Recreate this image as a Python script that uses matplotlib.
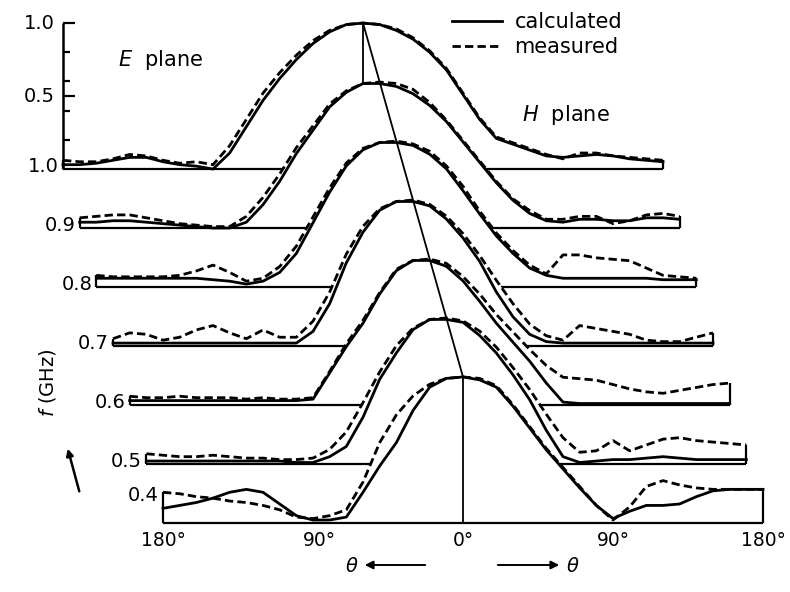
import numpy as np
import matplotlib
matplotlib.use("Agg")
import matplotlib.pyplot as plt
from matplotlib.lines import Line2D

plt.rcParams['font.family'] = ['DejaVu Sans']
plt.rcParams['mathtext.fontset'] = 'dejavusans'

# 方向角 (度), 每 10 度一个点
theta = list(range(-180, 181, 10))
freqs = ['0.4', '0.5', '0.6', '0.7', '0.8', '0.9', '1.0']
theta_ticks = [-180, -90, 0, 90, 180]
theta_ticklabels = ['180°', '90°', '0°', '90°', '180°']
amp_ticks = [0.2, 0.4, 0.5, 0.6, 0.8, 1.0]
amp_labels = ['0.5', '1.0']

# calculated / measured, 归一化方向图 (E 面在左, H 面在右)
calc_10 = [0.03, 0.03, 0.04, 0.06, 0.08, 0.08, 0.05, 0.03, 0.02,
           0.00, 0.11, 0.29, 0.47, 0.62, 0.75, 0.86, 0.94, 0.99,
           1.00,
           0.99, 0.95, 0.89, 0.80, 0.68, 0.51, 0.34, 0.21, 0.17,
           0.13, 0.09, 0.08, 0.09, 0.10, 0.09, 0.07, 0.06, 0.05]
meas_10 = [0.06, 0.05, 0.05, 0.07, 0.10, 0.09, 0.06, 0.04, 0.05,
           0.03, 0.16, 0.34, 0.52, 0.66, 0.78, 0.88, 0.95, 0.99,
           1.00,
           0.99, 0.96, 0.90, 0.81, 0.69, 0.52, 0.35, 0.22, 0.18,
           0.14, 0.10, 0.07, 0.11, 0.11, 0.09, 0.08, 0.07, 0.06]
calc_09 = [0.04, 0.04, 0.05, 0.05, 0.04, 0.03, 0.02, 0.01, 0.00,
           0.00, 0.04, 0.16, 0.32, 0.51, 0.67, 0.83, 0.93, 0.99,
           0.99,
           0.97, 0.92, 0.84, 0.73, 0.59, 0.45, 0.31, 0.19, 0.10,
           0.05, 0.04, 0.06, 0.06, 0.05, 0.05, 0.07, 0.07, 0.06]
meas_09 = [0.07, 0.08, 0.09, 0.09, 0.07, 0.05, 0.03, 0.02, 0.01,
           0.01, 0.08, 0.21, 0.37, 0.55, 0.70, 0.85, 0.94, 0.99,
           1.00,
           0.99, 0.95, 0.86, 0.74, 0.60, 0.46, 0.32, 0.20, 0.12,
           0.06, 0.06, 0.08, 0.08, 0.03, 0.05, 0.09, 0.10, 0.08]
calc_08 = [0.06, 0.06, 0.06, 0.06, 0.06, 0.06, 0.06, 0.05, 0.04,
           0.02, 0.04, 0.10, 0.23, 0.44, 0.65, 0.83, 0.94, 0.99,
           0.99,
           0.97, 0.91, 0.81, 0.66, 0.50, 0.35, 0.23, 0.13, 0.08,
           0.06, 0.06, 0.06, 0.06, 0.06, 0.06, 0.05, 0.05, 0.05]
meas_08 = [0.08, 0.07, 0.07, 0.07, 0.07, 0.08, 0.11, 0.15, 0.10,
           0.04, 0.06, 0.14, 0.28, 0.48, 0.68, 0.85, 0.95, 0.99,
           1.00,
           0.98, 0.93, 0.83, 0.69, 0.52, 0.37, 0.25, 0.15, 0.09,
           0.22, 0.22, 0.20, 0.19, 0.18, 0.13, 0.08, 0.07, 0.06]
calc_07 = [0.02, 0.02, 0.02, 0.02, 0.02, 0.02, 0.02, 0.02, 0.02,
           0.02, 0.02, 0.02, 0.10, 0.29, 0.57, 0.78, 0.93, 0.99,
           0.99,
           0.96, 0.87, 0.74, 0.58, 0.37, 0.20, 0.08, 0.03, 0.02,
           0.02, 0.02, 0.02, 0.02, 0.02, 0.02, 0.02, 0.02, 0.02]
meas_07 = [0.05, 0.09, 0.08, 0.04, 0.06, 0.11, 0.14, 0.09, 0.05,
           0.11, 0.06, 0.06, 0.17, 0.37, 0.63, 0.82, 0.94, 0.99,
           1.00,
           0.97, 0.89, 0.77, 0.62, 0.45, 0.29, 0.15, 0.07, 0.04,
           0.14, 0.12, 0.10, 0.08, 0.04, 0.03, 0.03, 0.06, 0.09]
calc_06 = [0.03, 0.03, 0.03, 0.03, 0.03, 0.03, 0.03, 0.03, 0.03,
           0.03, 0.03, 0.04, 0.22, 0.40, 0.56, 0.76, 0.92, 0.99,
           0.99,
           0.95, 0.85, 0.71, 0.56, 0.43, 0.30, 0.15, 0.02, 0.01,
           0.01, 0.01, 0.01, 0.01, 0.01, 0.01, 0.01, 0.01, 0.01]
meas_06 = [0.06, 0.05, 0.05, 0.06, 0.05, 0.05, 0.05, 0.04, 0.05,
           0.04, 0.04, 0.05, 0.23, 0.42, 0.58, 0.77, 0.93, 0.99,
           1.00,
           0.97, 0.88, 0.76, 0.62, 0.50, 0.38, 0.27, 0.19, 0.18,
           0.17, 0.14, 0.11, 0.09, 0.08, 0.10, 0.12, 0.14, 0.15]
calc_05 = [0.02, 0.02, 0.02, 0.02, 0.02, 0.02, 0.02, 0.02, 0.02,
           0.01, 0.01, 0.05, 0.12, 0.32, 0.58, 0.76, 0.92, 0.99,
           0.99,
           0.97, 0.88, 0.76, 0.61, 0.44, 0.23, 0.05, 0.01, 0.02,
           0.03, 0.03, 0.04, 0.05, 0.04, 0.03, 0.03, 0.03, 0.03]
meas_05 = [0.07, 0.06, 0.05, 0.05, 0.06, 0.05, 0.04, 0.04, 0.03,
           0.03, 0.04, 0.10, 0.22, 0.42, 0.63, 0.81, 0.93, 0.99,
           1.00,
           0.98, 0.91, 0.80, 0.66, 0.51, 0.34, 0.18, 0.08, 0.09,
           0.16, 0.09, 0.13, 0.17, 0.18, 0.16, 0.15, 0.14, 0.13]
calc_04 = [0.10, 0.12, 0.14, 0.17, 0.21, 0.23, 0.21, 0.13, 0.05,
           0.02, 0.02, 0.04, 0.21, 0.39, 0.55, 0.77, 0.93, 0.99,
           1.00,
           0.98, 0.93, 0.80, 0.65, 0.50, 0.37, 0.24, 0.12, 0.03,
           0.08, 0.12, 0.12, 0.13, 0.18, 0.22, 0.23, 0.23, 0.23]
meas_04 = [0.21, 0.20, 0.18, 0.17, 0.15, 0.14, 0.12, 0.09, 0.04,
           0.03, 0.05, 0.09, 0.28, 0.55, 0.74, 0.87, 0.95, 0.99,
           1.00,
           0.99, 0.94, 0.81, 0.66, 0.51, 0.38, 0.25, 0.12, 0.02,
           0.11, 0.25, 0.29, 0.26, 0.24, 0.23, 0.23, 0.23, 0.23]

calc = [calc_04, calc_05, calc_06, calc_07, calc_08, calc_09, calc_10]
meas = [meas_04, meas_05, meas_06, meas_07, meas_08, meas_09, meas_10]

W, H = 790, 592
DX, DY = -10.0, 0.404   # 每个频率的斜向平移
DASH = (0, (3, 1.5))
FS = 14

fig = plt.figure(figsize=(W / 100, H / 100), dpi=100)
ax = fig.add_axes([0, 0, 1, 1])
ax.set_xlim(-277.8, 196.2)
ax.set_ylim(-0.473, 3.582)
ax.axis('off')

th = np.array(theta, dtype=float)
n = len(freqs)
for k in reversed(range(n)):
    x = th + k * DX
    y0 = k * DY
    c = np.array(calc[k])
    m = np.array(meas[k])
    env = np.maximum(c, m)
    z = 10 + 3 * (n - k)   # 前面的(低频)盖住后面的
    ax.fill_between(x, y0, y0 + env, color='white', lw=0, zorder=z)
    ax.plot(x, y0 + c, color='k', lw=2.0, zorder=z + 1, solid_joinstyle='round')
    ax.plot(x, y0 + m, color='k', lw=2.0, ls=DASH, zorder=z + 1)
    ax.hlines(y0, x[0], x[-1], color='k', lw=1.6, zorder=z + 1)
    ax.vlines([x[0], x[-1]], y0, [y0 + env[0], y0 + env[-1]], color='k', lw=1.6, zorder=z + 1)
    lab_y = y0 + (0.19 if k == 0 else 0.02)
    ax.text(x[0] - 2.5, lab_y, freqs[k], ha='right', va='center', fontsize=FS, zorder=z + 2)

# 0 度竖线 (最前和最后) 以及连接各峰值的斜线
ax.vlines(0, 0, 1.0, color='k', lw=1.3, zorder=10 + 3 * n + 1)
ax.vlines((n - 1) * DX, (n - 1) * DY, (n - 1) * DY + 1.0, color='k', lw=1.3, zorder=14)
ax.plot([0, (n - 1) * DX], [1.0, (n - 1) * DY + 1.0], color='k', lw=1.3, zorder=50)

# 最上面一条的幅度坐标轴
xa = -180 + (n - 1) * DX
ya = (n - 1) * DY
ax.vlines(xa, ya, ya + 1.0, color='k', lw=1.8, zorder=40)
for t in amp_ticks:
    L = 7 if t in (0.5, 1.0) else 4
    ax.hlines(ya + t, xa, xa + L, color='k', lw=1.6, zorder=40)
for s in amp_labels:
    ax.text(xa - 5, ya + float(s), s, ha='right', va='center', fontsize=FS, zorder=40)

# 横坐标刻度文字
for t, s in zip(theta_ticks, theta_ticklabels):
    ax.text(t + (4 if t == -90 else 0), -0.12, s, ha='center', va='center', fontsize=13.5, zorder=40)

# 图例
handles = [Line2D([], [], color='k', lw=2.0), Line2D([], [], color='k', lw=2.0, ls=DASH)]
leg = ax.legend(handles, ['calculated', 'measured'], frameon=False, loc='upper left',
                bbox_to_anchor=(452 / W, 1 - 12 / H), fontsize=15, handlelength=2.4,
                handletextpad=0.6, labelspacing=0.25, borderaxespad=0, borderpad=0)
leg.set_zorder(60)

fig.text(118 / W, 1 - 60 / H, r'$E$  plane', va='center', fontsize=15)
fig.text(522 / W, 1 - 115 / H, r'$H$  plane', va='center', fontsize=15)
fig.text(48 / W, 1 - 383 / H, r'$f$ (GHz)', rotation=90, ha='center', va='center', fontsize=14)
ax.annotate('', xy=(67 / W, 1 - 446 / H), xytext=(80 / W, 1 - 494 / H), xycoords='figure fraction',
            arrowprops=dict(arrowstyle='-|>', color='k', lw=1.8, mutation_scale=10))

fig.text(352 / W, 1 - 566 / H, r'$\theta$', ha='center', va='center', fontsize=14)
ax.annotate('', xy=(362 / W, 1 - 565 / H), xytext=(428 / W, 1 - 565 / H), xycoords='figure fraction',
            arrowprops=dict(arrowstyle='-|>', color='k', lw=1.4, mutation_scale=12))
ax.annotate('', xy=(562 / W, 1 - 565 / H), xytext=(495 / W, 1 - 565 / H), xycoords='figure fraction',
            arrowprops=dict(arrowstyle='-|>', color='k', lw=1.4, mutation_scale=12))
fig.text(573 / W, 1 - 566 / H, r'$\theta$', ha='center', va='center', fontsize=14)

fig.savefig('out.png', dpi=100, facecolor='white')
